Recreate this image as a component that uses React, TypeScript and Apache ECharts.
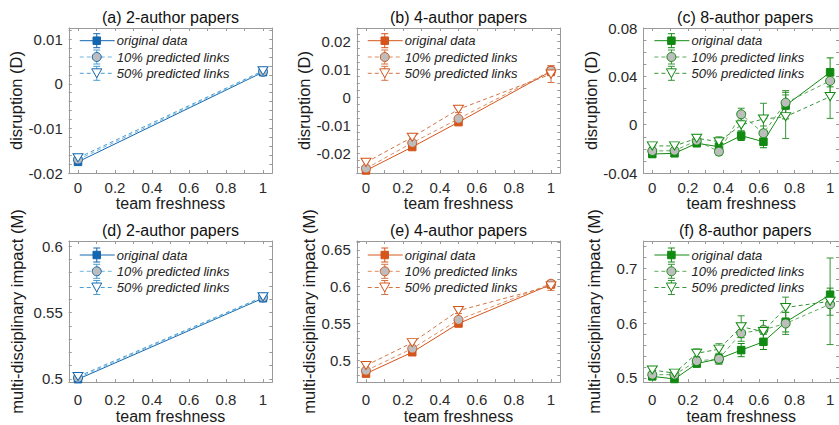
import React, { useEffect, useRef } from "react";
import * as echarts from "echarts";

// ---------- data ----------
const xs2 = [0, 1];
const xs4 = [0, 0.25, 0.5, 1];
const xs8 = [0, 0.125, 0.25, 0.375, 0.5, 0.625, 0.75, 1];

const xTickLabels = [0, 0.2, 0.4, 0.6, 0.8, 1];

// (a) disruption, 2-author
const D2_orig = [-0.0175, 0.0026];
const D2_origErr = [0.0004, 0.0003];
const D2_p10 = [-0.0170, 0.0027];
const D2_p10Err = [0.0004, 0.0003];
const D2_p50 = [-0.0166, 0.0029];
const D2_p50Err = [0.0005, 0.0004];
const D2_yLabels = [-0.02, -0.01, 0, 0.01];

// (b) disruption, 4-author
const D4_orig = [-0.0262, -0.0178, -0.0089, 0.0093];
const D4_origErr = [0.0007, 0.0007, 0.0007, 0.0015];
const D4_p10 = [-0.0255, -0.0163, -0.0077, 0.0095];
const D4_p10Err = [0.0008, 0.0008, 0.0008, 0.0018];
const D4_p50 = [-0.0233, -0.0143, -0.0043, 0.0083];
const D4_p50Err = [0.0012, 0.0012, 0.0012, 0.003];
const D4_yLabels = [-0.02, -0.01, 0, 0.01, 0.02];

// (c) disruption, 8-author
const D8_orig = [-0.0243, -0.0237, -0.0154, -0.0182, -0.0091, -0.0141, 0.0158, 0.0433];
const D8_origErr = [0.0025, 0.002, 0.002, 0.003, 0.004, 0.005, 0.011, 0.012];
const D8_p10 = [-0.0218, -0.0215, -0.0132, -0.0223, 0.0086, -0.0071, 0.0182, 0.0362];
const D8_p10Err = [0.0025, 0.002, 0.002, 0.003, 0.005, 0.006, 0.01, 0.01];
const D8_p50 = [-0.0176, -0.0176, -0.0113, -0.0141, -0.0002, 0.0047, 0.0066, 0.0232];
const D8_p50Err = [0.0025, 0.002, 0.003, 0.004, 0.006, 0.013, 0.018, 0.018];
const D8_yLabels = [-0.04, 0, 0.04, 0.08];

// (d) multi-disciplinary impact, 2-author
const M2_orig = [0.4998, 0.5608];
const M2_origErr = [0.0007, 0.0006];
const M2_p10 = [0.5008, 0.5613];
const M2_p10Err = [0.0007, 0.0006];
const M2_p50 = [0.5018, 0.5618];
const M2_p50Err = [0.0008, 0.0007];
const M2_yLabels = [0.5, 0.55, 0.6];

// (e) multi-disciplinary impact, 4-author
const M4_orig = [0.482, 0.511, 0.55, 0.603];
const M4_origErr = [0.003, 0.003, 0.003, 0.004];
const M4_p10 = [0.486, 0.516, 0.555, 0.604];
const M4_p10Err = [0.003, 0.003, 0.003, 0.004];
const M4_p50 = [0.493, 0.524, 0.5675, 0.601];
const M4_p50Err = [0.004, 0.004, 0.004, 0.006];
const M4_yLabels = [0.5, 0.55, 0.6, 0.65];

// (f) multi-disciplinary impact, 8-author
const M8_orig = [0.503, 0.4982, 0.5263, 0.535, 0.5509, 0.566, 0.602, 0.652];
const M8_origErr = [0.006, 0.006, 0.006, 0.008, 0.012, 0.014, 0.018, 0.012];
const M8_p10 = [0.506, 0.506, 0.531, 0.535, 0.582, 0.588, 0.5995, 0.6345];
const M8_p10Err = [0.006, 0.006, 0.008, 0.01, 0.015, 0.017, 0.02, 0.02];
const M8_p50 = [0.5146, 0.5088, 0.545, 0.5526, 0.5935, 0.5848, 0.6286, 0.64];
const M8_p50Err = [0.006, 0.006, 0.008, 0.01, 0.02, 0.02, 0.019, 0.079];
const M8_yLabels = [0.5, 0.6, 0.7];

const seriesNames = ["original data", "10% predicted links", "50% predicted links"];

// ---------- style ----------
const FONT = '"Liberation Sans", Arial, Helvetica, sans-serif';
const BLUE = { c0: "#1466b0", c1: "#6db4dc", c2: "#4a9fd0" };
const ORANGE = { c0: "#d4561c", c1: "#dc8d60", c2: "#d27345" };
const GREEN = { c0: "#118a11", c1: "#5daa5d", c2: "#389438" };
const GRAY_FILL = "#bdbdbd";
const BOX = "#9a9a9a";

const COL_LEFT = [68.75, 356.75, 643.4];
const ROW_TOP = [28, 241];
const GRID_W = 203.5;
const ROW_H = [145, 144];

function steps(from: number, to: number, step: number) {
  const out: number[] = [];
  const n = Math.round((to - from) / step);
  for (let i = 0; i <= n; i++) out.push(Math.round((from + i * step) * 1e6) / 1e6);
  return out;
}
const fmt = (v: number) => String(Math.round(v * 1e6) / 1e6);

const panels = [
  { title: "(a) 2-author papers", row: 0, col: 0, xs: xs2, pal: BLUE, yName: "disruption (D)",
    ys: [D2_orig, D2_p10, D2_p50], errs: [D2_origErr, D2_p10Err, D2_p50Err],
    yMin: -0.02, yMax: 0.0125, yLabels: D2_yLabels, minor: steps(-0.02, 0.012, 0.002), nameGap: 43 },
  { title: "(b) 4-author papers", row: 0, col: 1, xs: xs4, pal: ORANGE, yName: "disruption (D)",
    ys: [D4_orig, D4_p10, D4_p50], errs: [D4_origErr, D4_p10Err, D4_p50Err],
    yMin: -0.0271, yMax: 0.0248, yLabels: D4_yLabels, minor: steps(-0.025, 0.0225, 0.0025), nameGap: 38 },
  { title: "(c) 8-author papers", row: 0, col: 2, xs: xs8, pal: GREEN, yName: "disruption (D)",
    ys: [D8_orig, D8_p10, D8_p50], errs: [D8_origErr, D8_p10Err, D8_p50Err],
    yMin: -0.04, yMax: 0.08, yLabels: D8_yLabels, minor: steps(-0.04, 0.08, 0.01), nameGap: 42 },
  { title: "(d) 2-author papers", row: 1, col: 0, xs: xs2, pal: BLUE, yName: "multi-disciplinary impact (M)",
    ys: [M2_orig, M2_p10, M2_p50], errs: [M2_origErr, M2_p10Err, M2_p50Err],
    yMin: 0.4976, yMax: 0.6039, yLabels: M2_yLabels, minor: steps(0.5, 0.6, 0.01), nameGap: 43 },
  { title: "(e) 4-author papers", row: 1, col: 1, xs: xs4, pal: ORANGE, yName: "multi-disciplinary impact (M)",
    ys: [M4_orig, M4_p10, M4_p50], errs: [M4_origErr, M4_p10Err, M4_p50Err],
    yMin: 0.4705, yMax: 0.662, yLabels: M4_yLabels, minor: steps(0.48, 0.66, 0.01), nameGap: 36 },
  { title: "(f) 8-author papers", row: 1, col: 2, xs: xs8, pal: GREEN, yName: "multi-disciplinary impact (M)",
    ys: [M8_orig, M8_p10, M8_p50], errs: [M8_origErr, M8_p10Err, M8_p50Err],
    yMin: 0.4925, yMax: 0.75, yLabels: M8_yLabels, minor: steps(0.5, 0.74, 0.02), nameGap: 41 },
];

const X_MINOR = steps(0, 1, 0.1);
const DASH = [4, 3];
const TRI_DOWN = "path://M0,0L10,0L5,9Z";

function buildOption() {
  const grid: any[] = [];
  const xAxis: any[] = [];
  const yAxis: any[] = [];
  const series: any[] = [];
  const graphic: any[] = [];

  panels.forEach((p, i) => {
    const left = COL_LEFT[p.col];
    const top = ROW_TOP[p.row];
    const h = ROW_H[p.row];
    grid.push({ left, top, width: GRID_W, height: h, containLabel: false });

    const baseAxisLine = { show: true, onZero: false, lineStyle: { color: BOX, width: 1 } };
    xAxis.push({
      type: "value", gridIndex: i, min: -0.05, max: 1.05, position: "bottom",
      axisLine: baseAxisLine,
      axisTick: { show: true, inside: true, length: 3, customValues: X_MINOR, lineStyle: { color: BOX } },
      axisLabel: { show: true, customValues: xTickLabels, formatter: fmt, color: "#2a2a2a",
        fontFamily: FONT, fontSize: 15, margin: p.row === 0 ? 7 : 10 },
      splitLine: { show: false },
      name: "team freshness", nameLocation: "middle", nameGap: p.row === 0 ? 20 : 24,
      nameTextStyle: { color: "#1a1a1a", fontFamily: FONT, fontSize: 16 },
    });
    xAxis.push({
      type: "value", gridIndex: i, min: -0.05, max: 1.05, position: "top",
      axisLine: baseAxisLine,
      axisTick: { show: true, inside: true, length: 3, customValues: X_MINOR, lineStyle: { color: BOX } },
      axisLabel: { show: false }, splitLine: { show: false },
    });
    yAxis.push({
      type: "value", gridIndex: i, min: p.yMin, max: p.yMax, position: "left",
      axisLine: baseAxisLine,
      axisTick: { show: true, inside: true, length: 3, customValues: p.minor, lineStyle: { color: BOX } },
      axisLabel: { show: true, customValues: p.yLabels, formatter: fmt, color: "#2a2a2a",
        fontFamily: FONT, fontSize: 15, margin: 6 },
      splitLine: { show: false },
      name: p.yName, nameLocation: "middle", nameGap: p.nameGap,
      nameTextStyle: { color: "#1a1a1a", fontFamily: FONT, fontSize: 16.5 },
    });
    yAxis.push({
      type: "value", gridIndex: i, min: p.yMin, max: p.yMax, position: "right",
      axisLine: baseAxisLine,
      axisTick: { show: true, inside: true, length: 3, customValues: p.minor, lineStyle: { color: BOX } },
      axisLabel: { show: false }, splitLine: { show: false },
    });

    const xi = i * 2;
    const yi = i * 2;
    const lineColors = [p.pal.c0, p.pal.c1, p.pal.c2];
    const edgeColor = p.pal.c0;

    for (let k = 0; k < 3; k++) {
      const errData = p.xs.map((x, j) => [x, p.ys[k][j], p.errs[k][j]]);
      const barColor = k === 0 ? p.pal.c0 : p.pal.c2;
      series.push({
        type: "custom", name: seriesNames[k] + " error", xAxisIndex: xi, yAxisIndex: yi, z: 1,
        clip: true, data: errData, encode: { x: 0, y: 1 },
        renderItem: (params: any, api: any) => {
          const x = api.value(0), y = api.value(1), e = api.value(2);
          const a = api.coord([x, y + e]);
          const b = api.coord([x, y - e]);
          const cx = a[0];
          const w = 3.5;
          const st = { stroke: barColor, lineWidth: 1 };
          return {
            type: "group",
            children: [
              { type: "line", shape: { x1: cx, y1: a[1], x2: cx, y2: b[1] }, style: st },
              { type: "line", shape: { x1: cx - w, y1: a[1], x2: cx + w, y2: a[1] }, style: st },
              { type: "line", shape: { x1: cx - w, y1: b[1], x2: cx + w, y2: b[1] }, style: st },
            ],
          };
        },
      });
      const sym = k === 0 ? "rect" : k === 1 ? "circle" : TRI_DOWN;
      const symSize = k === 0 ? 7.5 : k === 1 ? 9 : [10, 9];
      const fill = k === 0 ? p.pal.c0 : k === 1 ? GRAY_FILL : "#ffffff";
      series.push({
        type: "line", name: seriesNames[k], xAxisIndex: xi, yAxisIndex: yi, z: 3 + k,
        data: p.xs.map((x, j) => [x, p.ys[k][j]]),
        symbol: sym, symbolSize: symSize, showSymbol: true, symbolKeepAspect: true,
        lineStyle: { color: lineColors[k], width: 1, type: k === 0 ? "solid" : DASH },
        itemStyle: { color: fill, borderColor: edgeColor, borderWidth: 1, opacity: 1 },
        emphasis: { disabled: true },
      });
    }

    graphic.push({
      type: "text", x: left + GRID_W / 2, y: top - 11,
      style: { text: p.title, font: `16px ${FONT}`, fill: "#111", align: "center", verticalAlign: "middle" },
    });

    const rowOff = p.row === 0 ? [12.7, 29, 45.3] : [14, 30.3, 46.5];
    for (let k = 0; k < 3; k++) {
      const ly = top + rowOff[k];
      const x1 = left + 11, x2 = left + 46, mx = left + 28;
      const col = k === 0 ? p.pal.c0 : k === 1 ? p.pal.c1 : p.pal.c2;
      const barCol = k === 0 ? p.pal.c0 : p.pal.c2;
      graphic.push({
        type: "line", shape: { x1, y1: ly, x2, y2: ly },
        style: { stroke: col, lineWidth: 1, lineDash: k === 0 ? null : DASH },
      });
      graphic.push({ type: "line", shape: { x1: mx, y1: ly - 7, x2: mx, y2: ly + 7 }, style: { stroke: barCol, lineWidth: 1 } });
      graphic.push({ type: "line", shape: { x1: mx - 3.5, y1: ly - 7, x2: mx + 3.5, y2: ly - 7 }, style: { stroke: barCol, lineWidth: 1 } });
      graphic.push({ type: "line", shape: { x1: mx - 3.5, y1: ly + 7, x2: mx + 3.5, y2: ly + 7 }, style: { stroke: barCol, lineWidth: 1 } });
      if (k === 0) {
        graphic.push({ type: "rect", shape: { x: mx - 3.75, y: ly - 3.75, width: 7.5, height: 7.5 }, style: { fill: p.pal.c0, stroke: p.pal.c0 } });
      } else if (k === 1) {
        graphic.push({ type: "circle", shape: { cx: mx, cy: ly, r: 4.5 }, style: { fill: GRAY_FILL, stroke: p.pal.c0, lineWidth: 1 } });
      } else {
        graphic.push({ type: "polygon", shape: { points: [[mx - 5, ly - 4.5], [mx + 5, ly - 4.5], [mx, ly + 4.5]] }, style: { fill: "#fff", stroke: p.pal.c0, lineWidth: 1 } });
      }
      graphic.push({
        type: "text", x: left + 48, y: ly,
        style: { text: seriesNames[k], font: `italic 13px ${FONT}`, fill: "#222", align: "left", verticalAlign: "middle" },
      });
    }
  });

  return { animation: false, backgroundColor: "#ffffff", grid, xAxis, yAxis, series, graphic };
}

export default function App() {
  const ref = useRef<HTMLDivElement>(null);
  useEffect(() => {
    document.body.style.margin = "0";
    if (!ref.current) return;
    const chart = echarts.init(ref.current, undefined, { renderer: "svg" });
    chart.setOption(buildOption() as any);
    return () => chart.dispose();
  }, []);
  return <div ref={ref} style={{ position: "fixed", left: 0, top: 0, width: 839, height: 425 }} />;
}
